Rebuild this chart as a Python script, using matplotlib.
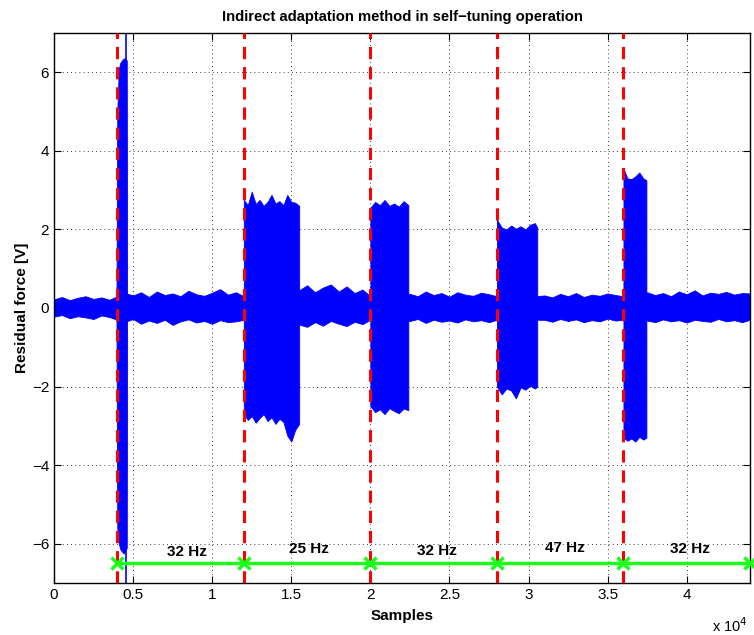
import numpy as np
import matplotlib.pyplot as plt

plt.rcParams['font.family'] = ['Liberation Sans', 'DejaVu Sans']

# baseline noise envelope, read every 500 samples (0 .. 44000)
base_x = np.arange(0, 44001, 500)
base_up = [0.22, 0.28, 0.20, 0.26, 0.30, 0.23, 0.27, 0.21,
           0.30, 0.38, 0.32, 0.40, 0.28, 0.42, 0.33, 0.37, 0.30, 0.44, 0.35, 0.31, 0.39, 0.48, 0.34, 0.40,
           0.30, 0.30, 0.30, 0.30, 0.30, 0.30, 0.30,
           0.45, 0.58, 0.40, 0.52, 0.60, 0.42, 0.55, 0.38, 0.47,
           0.30, 0.30, 0.30, 0.30, 0.30,
           0.36, 0.30, 0.42, 0.33, 0.38, 0.29, 0.40, 0.34, 0.31, 0.39, 0.35,
           0.30, 0.30, 0.30, 0.30, 0.30, 0.30,
           0.32, 0.27, 0.36, 0.30, 0.38, 0.28, 0.34, 0.31, 0.37, 0.33,
           0.30, 0.30, 0.30,
           0.40, 0.33, 0.38, 0.30, 0.42, 0.35, 0.45, 0.32, 0.39, 0.36, 0.41, 0.34, 0.38, 0.37]
base_lo = [-0.22, -0.18, -0.26, -0.21, -0.24, -0.28, -0.19, -0.23,
           -0.30, -0.35, -0.28, -0.40, -0.32, -0.38, -0.30, -0.43, -0.34, -0.29, -0.37, -0.33, -0.40, -0.31, -0.36, -0.34,
           -0.30, -0.30, -0.30, -0.30, -0.30, -0.30, -0.30,
           -0.42, -0.48, -0.36, -0.45, -0.33, -0.40, -0.46, -0.35, -0.41,
           -0.30, -0.30, -0.30, -0.30, -0.30,
           -0.33, -0.28, -0.38, -0.30, -0.35, -0.32, -0.37, -0.29, -0.34, -0.31, -0.36,
           -0.30, -0.30, -0.30, -0.30, -0.30, -0.30,
           -0.30, -0.35, -0.28, -0.33, -0.29, -0.36, -0.31, -0.34, -0.27, -0.32,
           -0.30, -0.30, -0.30,
           -0.32, -0.36, -0.29, -0.34, -0.31, -0.37, -0.30, -0.33, -0.35, -0.28, -0.34, -0.31, -0.36, -0.30]

# bursts after each frequency change (x, upper envelope, lower envelope)
b1_x = [3950, 4000, 4100, 4200, 4300, 4400, 4500, 4600, 4620]
b1_up = [0.3, 5.0, 6.1, 6.25, 6.3, 6.35, 6.35, 6.3, 0.4]
b1_lo = [-0.3, -5.6, -6.0, -6.15, -6.2, -6.25, -6.2, -6.1, -0.4]

b2_x = [12000, 12250, 12500, 12750, 13000, 13250, 13500, 13750, 14000, 14250, 14500, 14750, 15000, 15250, 15500]
b2_up = [2.75, 2.62, 2.96, 2.65, 2.75, 2.60, 2.70, 2.88, 2.66, 2.72, 2.62, 2.88, 2.70, 2.68, 2.60]
b2_lo = [-2.70, -2.85, -2.75, -2.92, -2.80, -2.70, -2.88, -2.78, -2.95, -2.82, -2.90, -3.25, -3.40, -3.10, -2.95]

b3_x = [20000, 20300, 20600, 20900, 21200, 21500, 21800, 22100, 22400]
b3_up = [2.55, 2.70, 2.62, 2.75, 2.60, 2.66, 2.58, 2.72, 2.62]
b3_lo = [-2.50, -2.65, -2.58, -2.70, -2.55, -2.62, -2.68, -2.56, -2.60]

b4_x = [28000, 28300, 28600, 28900, 29200, 29500, 29800, 30100, 30400, 30550]
b4_up = [2.25, 2.05, 2.00, 2.10, 2.02, 2.08, 2.00, 2.12, 2.16, 2.05]
b4_lo = [-2.00, -2.20, -2.05, -2.10, -2.30, -2.02, -2.08, -1.98, -2.05, -2.00]

b5_x = [36000, 36250, 36500, 36750, 37000, 37250, 37450]
b5_up = [3.55, 3.30, 3.28, 3.35, 3.45, 3.30, 3.25]
b5_lo = [-3.30, -3.38, -3.32, -3.40, -3.28, -3.35, -3.30]

spike_x = 4540

switch_x = [4000, 12000, 20000, 28000, 36000]
end_x = 44000
freq_labels = ['32 Hz', '25 Hz', '32 Hz', '47 Hz', '32 Hz']
label_x = [8400, 16100, 24200, 32300, 40200]
label_y = [-6.22, -6.14, -6.19, -6.11, -6.14]
marker_y = -6.5

fig = plt.figure(figsize=(7.54, 6.35), dpi=100)
ax = fig.add_axes([54/754, 1-583/635, 696/754, 550/635])

blue = (0, 0, 1)
ax.fill_between(base_x, base_lo, base_up, color=blue, lw=0.6, zorder=2)
for bx, bu, bl in [(b1_x, b1_up, b1_lo), (b2_x, b2_up, b2_lo), (b3_x, b3_up, b3_lo),
                   (b4_x, b4_up, b4_lo), (b5_x, b5_up, b5_lo)]:
    ax.fill_between(bx, bl, bu, color=blue, lw=0.6, zorder=2)
ax.plot([spike_x, spike_x], [-8, 8], color=blue, lw=1.2, zorder=2)

for sx in switch_x:
    ax.axvline(sx, color='red', lw=2.2, linestyle=(0, (4, 2.6)), zorder=3)

green = (0.1, 1, 0.1)
mx = switch_x + [end_x]
ax.plot(mx, [marker_y] * len(mx), color=green, lw=2.5, marker='x',
        ms=9, mew=2.5, zorder=4, clip_on=False)
for lx, ly, t in zip(label_x, label_y, freq_labels):
    ax.text(lx, ly, t, ha='center', va='center', fontsize=11, fontweight='bold', zorder=5)

ax.set_xlim(0, 44000)
ax.set_ylim(-7, 7)
ax.set_xticks(np.arange(0, 40001, 5000))
ax.set_xticklabels(['0', '0.5', '1', '1.5', '2', '2.5', '3', '3.5', '4'])
ax.set_yticks(np.arange(-6, 7, 2))
ax.tick_params(direction='in', top=True, right=True, labelsize=11, length=5, width=0.8)
ax.grid(True, color='black', linestyle=(0, (1, 4)), lw=0.6)
ax.set_axisbelow(True)
for s in ax.spines.values():
    s.set_linewidth(1.0)

ax.set_title('Indirect adaptation method in self\u2212tuning operation', fontsize=10.6, fontweight='bold', pad=9)
ax.set_xlabel('Samples', fontsize=11, fontweight='bold', labelpad=5)
ax.set_ylabel('Residual force [V]', fontsize=11, fontweight='bold', labelpad=2)
fig.text(712/754, 1-626/635, r'x 10$^4$', fontsize=10.5, va='center')

fig.savefig('out.png', dpi=100)
